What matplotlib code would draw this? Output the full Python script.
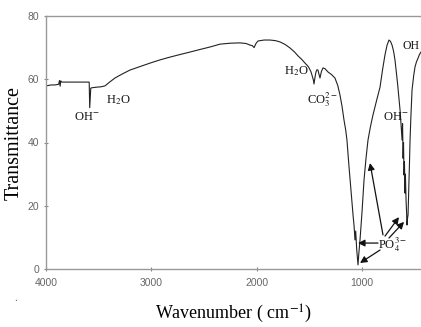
import numpy as np
import matplotlib
matplotlib.use("Agg")
import matplotlib.pyplot as plt

plt.rcParams['font.family'] = ['Liberation Serif', 'DejaVu Serif']
plt.rcParams['mathtext.fontset'] = 'stix'

# FTIR spectrum (wavenumber cm-1, transmittance %)
wavenumber = [4000, 3950, 3915, 3880, 3872, 3866, 3860, 3850, 3800, 3700, 3600, 3590,
              3585, 3575, 3565, 3520, 3480, 3440, 3400, 3345, 3280, 3203, 3100, 3013,
              2920, 2823, 2730, 2633, 2540, 2443, 2348, 2250, 2158, 2100, 2063, 2040,
              2025, 2005, 1987, 1930, 1873, 1820, 1778, 1730, 1684, 1640, 1608, 1570,
              1541, 1515, 1503, 1485, 1475, 1462, 1456, 1447, 1437, 1428, 1418, 1408,
              1399, 1385, 1370, 1350, 1323, 1290, 1257, 1230, 1209, 1190, 1171, 1155,
              1143, 1125, 1105, 1085, 1075, 1067, 1060, 1050, 1038, 1030, 1019, 1000,
              981, 962, 943, 920, 896, 860, 829, 805, 782, 762, 744, 730, 715, 700,
              687, 662, 639, 628, 620, 615, 610, 606, 601, 597, 592, 588, 582, 577,
              573, 568, 563, 558, 554, 549, 544, 535, 525, 510, 497, 483, 468, 455, 440]
transmittance = [57.9, 58.2, 58.2, 58.4, 59.6, 57.8, 59.5, 59.1, 59.1, 59.1, 59.1, 59.1,
                 51.0, 57.2, 57.3, 57.5, 57.6, 57.9, 59.0, 60.4, 61.6, 62.9, 64.1, 65.1,
                 66.1, 67.0, 67.8, 68.6, 69.4, 70.2, 71.1, 71.4, 71.5, 71.3, 70.8, 70.6,
                 70.0, 71.4, 72.1, 72.4, 72.4, 72.2, 71.8, 71.0, 69.9, 68.6, 67.4, 66.2,
                 65.1, 64.2, 63.6, 62.4, 61.3, 59.8, 58.5, 60.5, 62.3, 63.0, 62.9, 61.5,
                 60.4, 62.5, 63.6, 63.3, 62.3, 61.5, 60.4, 58.0, 55.0, 51.5, 47.1, 44.0,
                 40.8, 33.0, 25.0, 17.0, 13.5, 9.2, 12.0, 6.0, 1.3, 5.0, 9.2, 18.0,
                 28.1, 35.0, 40.8, 45.0, 48.7, 53.5, 57.5, 63.0, 67.7, 70.8, 72.4, 72.0,
                 70.8, 68.8, 66.1, 58.5, 50.3, 45.0, 40.8, 46.0, 35.0, 40.0, 29.7, 34.0,
                 24.0, 30.0, 21.8, 18.0, 13.9, 16.0, 17.1, 23.0, 28.1, 34.0, 40.8, 49.0,
                 56.6, 61.0, 63.9, 65.5, 66.7, 67.8, 68.6]

xticks = [4000, 3000, 2000, 1000]
yticks = [0, 20, 40, 60, 80]

# band labels: (text, wavenumber, transmittance, horizontal alignment, size)
band_labels = [("OH$^{-}$", 3611, 48.0, "center", 9),
               ("H$_2$O", 3316, 53.5, "center", 9),
               ("H$_2$O", 1627, 62.5, "center", 9),
               ("CO$_3^{2-}$", 1522, 53.5, "left", 9),
               ("OH$^{-}$", 677, 48.0, "center", 9),
               ("OH", 620, 70.5, "left", 8.5),
               ("PO$_4^{3-}$", 848, 7.6, "left", 9)]

# PO4 arrows: (tail wavenumber, tail value, head wavenumber, head value)
po4_arrows = [(801, 10.8, 924, 33.5),
              (848, 8.2, 1038, 8.2),
              (829, 6.0, 1019, 1.9),
              (782, 10.4, 649, 16.4),
              (744, 9.8, 601, 14.9)]

fig = plt.figure(figsize=(4.21, 3.27), dpi=100)
ax = fig.add_axes([46 / 421, 1 - 269 / 327, 1 - 46 / 421, (269 - 16) / 327])

ax.plot(wavenumber, transmittance, color='#222222', lw=0.8)

for txt, wn, tr, ha, fs in band_labels:
    ax.text(wn, tr, txt, ha=ha, va='center', fontsize=fs, color='#111111')

for x0, y0, x1, y1 in po4_arrows:
    ax.annotate("", xy=(x1, y1), xytext=(x0, y0),
                arrowprops=dict(arrowstyle='-|>', color='#111111', lw=0.9,
                                mutation_scale=10, shrinkA=0, shrinkB=0))

ax.set_xlim(4000, 440)
ax.set_ylim(0, 80)
ax.set_xticks(xticks)
ax.set_yticks(yticks)
ax.tick_params(labelsize=7.5, labelcolor='#666666', color='#888888',
               length=3, width=0.8, direction='inout')
ax.tick_params(axis='x', pad=5)
for lbl in ax.get_xticklabels() + ax.get_yticklabels():
    lbl.set_fontfamily('Liberation Sans')
for side in ['left', 'bottom', 'top']:
    ax.spines[side].set_color('#999999')
    ax.spines[side].set_linewidth(1.0)
ax.spines['right'].set_visible(False)

ax.set_ylabel("Transmittance", fontsize=14.5, labelpad=3)
ax.set_xlabel("Wavenumber ( cm$^{-1}$)", fontsize=13, labelpad=10.5)

fig.text(14 / 421, 1 - 301 / 327, ".", fontsize=8, color='#555555')

fig.savefig("out.png", dpi=100)
